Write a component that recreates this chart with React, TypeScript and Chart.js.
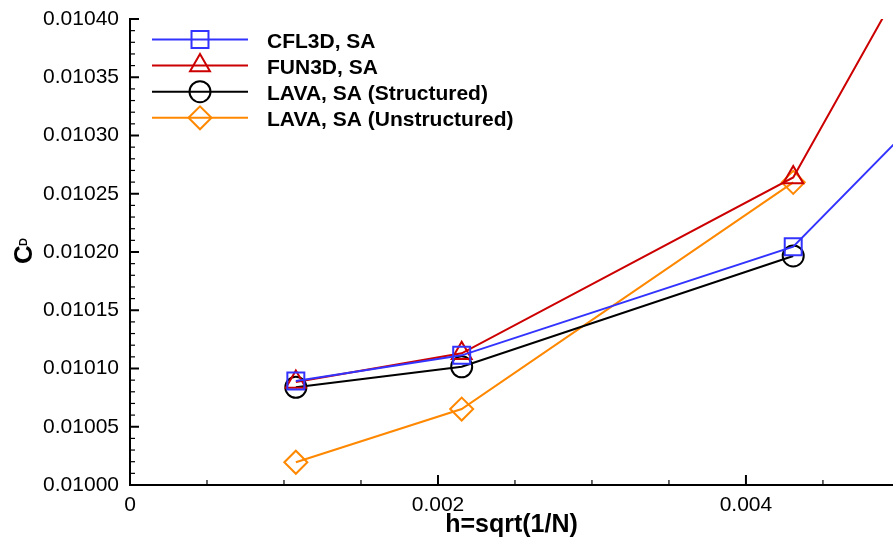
import React, { useEffect, useRef } from 'react';
import { Chart, registerables } from 'chart.js';

Chart.register(...registerables);

// Grid spacing h = sqrt(1/N) for each refinement level
const hValues = [0.001077, 0.002154, 0.004307, 0.008615];

// Drag coefficient per code
const cfl3dSA = [0.0100893, 0.0101113, 0.0102046, 0.010784];
const fun3dSA = [0.0100885, 0.010113, 0.010264, 0.011278];
const lavaStructured = [0.0100839, 0.0101015, 0.0101966];
const lavaUnstructured = [0.0100195, 0.0100652, 0.0102598];

const seriesNames = [
  'CFL3D, SA',
  'FUN3D, SA',
  'LAVA, SA (Structured)',
  'LAVA, SA (Unstructured)',
];

// Axis ticks
const xMajorTicks = [0, 0.002, 0.004];
const xTickLabels = ['0', '0.002', '0.004'];
const yMajorTicks = [0.01, 0.01005, 0.0101, 0.01015, 0.0102, 0.01025, 0.0103, 0.01035, 0.0104];
const yTickLabels = ['0.01000', '0.01005', '0.01010', '0.01015', '0.01020', '0.01025', '0.01030', '0.01035', '0.01040'];

const X_MIN = 0;
const X_MAX = 0.004955;
const X_MINOR_STEP = 0.0005;
const Y_MIN = 0.01;
const Y_MAX = 0.0104;
const Y_MINOR_STEP = 0.00001;

// Visible frame; the canvas is a little wider so the plot area reaches the frame's right edge
const WIDTH = 893;
const HEIGHT = 538;
const CANVAS_WIDTH = 907;

const BLUE = 'rgb(51,51,255)';
const RED = 'rgb(204,0,0)';
const BLACK = 'rgb(0,0,0)';
const ORANGE = 'rgb(255,136,0)';

const FONT = "'Liberation Sans', Arial, Helvetica, sans-serif";

function labelFor(value: number, majors: number[], labels: string[], tol: number): string {
  for (let i = 0; i < majors.length; i++) {
    if (Math.abs(value - majors[i]) < tol) return labels[i];
  }
  return '';
}

function isMajor(value: number, majors: number[], tol: number): boolean {
  return majors.some((m) => Math.abs(value - m) < tol);
}

function drawMarker(ctx: CanvasRenderingContext2D, style: string, x: number, y: number, r: number) {
  ctx.beginPath();
  if (style === 'rect') {
    const h = r * Math.SQRT1_2;
    ctx.rect(x - h, y - h, 2 * h, 2 * h);
  } else if (style === 'triangle') {
    let a = 0;
    ctx.moveTo(x + Math.sin(a) * r, y - Math.cos(a) * r);
    a += (2 * Math.PI) / 3;
    ctx.lineTo(x + Math.sin(a) * r, y - Math.cos(a) * r);
    a += (2 * Math.PI) / 3;
    ctx.lineTo(x + Math.sin(a) * r, y - Math.cos(a) * r);
    ctx.closePath();
  } else if (style === 'circle') {
    ctx.arc(x, y, r, 0, Math.PI * 2);
  } else if (style === 'rectRot') {
    ctx.moveTo(x - r, y);
    ctx.lineTo(x, y - r);
    ctx.lineTo(x + r, y);
    ctx.lineTo(x, y + r);
    ctx.closePath();
  }
  ctx.stroke();
}

// Inward-facing tick marks on both axes
const innerTicksPlugin = {
  id: 'innerTicks',
  afterDatasetsDraw(chart: any) {
    const { ctx, chartArea } = chart;
    const xs = chart.scales.x;
    const ys = chart.scales.y;
    ctx.save();
    ctx.strokeStyle = '#000';
    ys.ticks.forEach((t: any) => {
      const major = isMajor(t.value, yMajorTicks, 1e-9);
      const py = ys.getPixelForValue(t.value);
      ctx.lineWidth = major ? 2 : 1.2;
      ctx.beginPath();
      ctx.moveTo(chartArea.left, py);
      ctx.lineTo(chartArea.left + (major ? 9 : 5), py);
      ctx.stroke();
    });
    xs.ticks.forEach((t: any) => {
      const major = isMajor(t.value, xMajorTicks, 1e-9);
      const px = xs.getPixelForValue(t.value);
      ctx.lineWidth = major ? 2 : 1.2;
      ctx.beginPath();
      ctx.moveTo(px, chartArea.bottom);
      ctx.lineTo(px, chartArea.bottom - (major ? 10 : 5));
      ctx.stroke();
    });
    ctx.restore();
  },
};

// Line-and-symbol legend in the upper left
const legendPlugin = {
  id: 'lineSymbolLegend',
  afterDraw(chart: any) {
    const { ctx } = chart;
    ctx.save();
    chart.data.datasets.forEach((ds: any, i: number) => {
      const y = 39.5 + i * 26.1;
      ctx.strokeStyle = ds.borderColor;
      ctx.lineWidth = ds.borderWidth;
      ctx.beginPath();
      ctx.moveTo(152, y);
      ctx.lineTo(248, y);
      ctx.stroke();
      ctx.lineWidth = ds.pointBorderWidth;
      drawMarker(ctx, ds.pointStyle, 200, y, ds.pointRadius);
      ctx.fillStyle = '#000';
      ctx.font = `bold 21px ${FONT}`;
      ctx.textAlign = 'left';
      ctx.textBaseline = 'alphabetic';
      ctx.fillText(ds.label, 267, y + 8.5);
    });
    ctx.restore();
  },
};

// Rotated C_D axis title
const yTitlePlugin = {
  id: 'yTitle',
  afterDraw(chart: any) {
    const { ctx } = chart;
    ctx.save();
    ctx.fillStyle = '#000';
    ctx.translate(32, 264);
    ctx.rotate(-Math.PI / 2);
    ctx.textAlign = 'left';
    ctx.textBaseline = 'alphabetic';
    ctx.font = `bold 26px ${FONT}`;
    ctx.fillText('C', 0, 0);
    ctx.font = `bold 11px ${FONT}`;
    ctx.fillText('D', 18, -5);
    ctx.restore();
  },
};

export default function App() {
  const canvasRef = useRef<HTMLCanvasElement | null>(null);

  useEffect(() => {
    const canvas = canvasRef.current;
    if (!canvas) return;

    const makeSeries = (values: number[]) =>
      values.map((v, i) => ({ x: hValues[i], y: v }));

    const common = {
      borderWidth: 2,
      pointBorderWidth: 2,
      pointBackgroundColor: 'rgba(0,0,0,0)',
      backgroundColor: 'rgba(0,0,0,0)',
      fill: false,
      tension: 0,
      clip: 0,
    };

    const chart = new Chart(canvas, {
      type: 'line',
      data: {
        datasets: [
          { ...common, label: seriesNames[0], data: makeSeries(cfl3dSA), borderColor: BLUE, pointBorderColor: BLUE, pointStyle: 'rect', pointRadius: 12 },
          { ...common, label: seriesNames[1], data: makeSeries(fun3dSA), borderColor: RED, pointBorderColor: RED, pointStyle: 'triangle', pointRadius: 11.5 },
          { ...common, label: seriesNames[2], data: makeSeries(lavaStructured), borderColor: BLACK, pointBorderColor: BLACK, pointStyle: 'circle', pointRadius: 10.5 },
          { ...common, label: seriesNames[3], data: makeSeries(lavaUnstructured), borderColor: ORANGE, pointBorderColor: ORANGE, pointStyle: 'rectRot', pointRadius: 11.5 },
        ] as any,
      },
      options: {
        animation: false,
        responsive: false,
        events: [],
        layout: { padding: { top: 19, right: 0, bottom: 0, left: 0 } },
        plugins: {
          legend: { display: false },
          tooltip: { enabled: false },
        },
        scales: {
          x: {
            type: 'linear',
            min: X_MIN,
            max: X_MAX,
            afterBuildTicks(scale: any) {
              const ticks = [];
              for (let i = 0; i * X_MINOR_STEP <= X_MAX + 1e-12; i++) {
                ticks.push({ value: +(X_MIN + i * X_MINOR_STEP).toFixed(6) });
              }
              scale.ticks = ticks;
            },
            afterFit(scale: any) {
              scale.height = 53;
              scale.paddingLeft = 0;
              scale.paddingRight = 0;
            },
            grid: { display: false, drawTicks: false },
            border: { display: true, width: 2, color: '#000' },
            ticks: {
              autoSkip: false,
              maxRotation: 0,
              padding: 8,
              color: '#000',
              font: { family: FONT, size: 21 },
              callback: (v: any) => labelFor(Number(v), xMajorTicks, xTickLabels, 1e-9),
            },
            title: {
              display: true,
              text: 'h=sqrt(1/N)',
              color: '#000',
              font: { family: FONT, size: 25, weight: 'bold' },
              padding: { top: 0, bottom: -2 },
            },
          },
          y: {
            type: 'linear',
            min: Y_MIN,
            max: Y_MAX,
            afterBuildTicks(scale: any) {
              const ticks = [];
              const n = Math.round((Y_MAX - Y_MIN) / Y_MINOR_STEP);
              for (let i = 0; i <= n; i++) {
                ticks.push({ value: +(Y_MIN + i * Y_MINOR_STEP).toFixed(6) });
              }
              scale.ticks = ticks;
            },
            afterFit(scale: any) {
              scale.width = 130;
              scale.paddingTop = 0;
              scale.paddingBottom = 0;
            },
            grid: { display: false, drawTicks: false },
            border: { display: true, width: 2, color: '#000' },
            ticks: {
              autoSkip: false,
              padding: 11,
              color: '#000',
              font: { family: FONT, size: 21 },
              callback: (v: any) => labelFor(Number(v), yMajorTicks, yTickLabels, 1e-9),
            },
          },
        },
      } as any,
      plugins: [innerTicksPlugin, legendPlugin, yTitlePlugin],
    });

    return () => chart.destroy();
  }, []);

  return (
    <div style={{ position: 'fixed', left: 0, top: 0, width: WIDTH, height: HEIGHT, background: '#fff', overflow: 'hidden' }}>
      <canvas ref={canvasRef} width={CANVAS_WIDTH} height={HEIGHT} style={{ display: 'block', width: CANVAS_WIDTH, height: HEIGHT }} />
    </div>
  );
}
